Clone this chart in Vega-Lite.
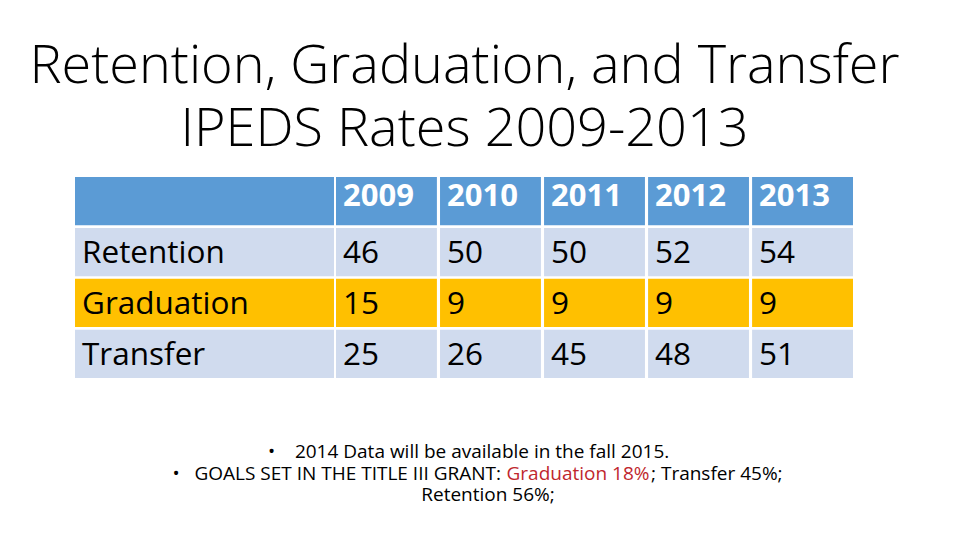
{
  "$schema": "https://vega.github.io/schema/vega-lite/v6.json",
  "background": "white",
  "padding": {"left": 29, "top": 35, "right": 0, "bottom": 0},
  "config": {"view": {"stroke": null}},
  "datasets": {
    "title": [
      {"line": 1, "text": "Retention, Graduation, and Transfer"},
      {"line": 2, "text": "IPEDS Rates 2009-2013"}
    ],
    "cells": [
      {"row": "header", "col": "label", "value": ""},
      {"row": "Retention", "col": "label", "value": "Retention"},
      {"row": "Graduation", "col": "label", "value": "Graduation"},
      {"row": "Transfer", "col": "label", "value": "Transfer"},
      {"row": "header", "col": "2009", "value": "2009"},
      {"row": "header", "col": "2010", "value": "2010"},
      {"row": "header", "col": "2011", "value": "2011"},
      {"row": "header", "col": "2012", "value": "2012"},
      {"row": "header", "col": "2013", "value": "2013"},
      {"row": "Retention", "col": "2009", "value": "46"},
      {"row": "Retention", "col": "2010", "value": "50"},
      {"row": "Retention", "col": "2011", "value": "50"},
      {"row": "Retention", "col": "2012", "value": "52"},
      {"row": "Retention", "col": "2013", "value": "54"},
      {"row": "Graduation", "col": "2009", "value": "15"},
      {"row": "Graduation", "col": "2010", "value": "9"},
      {"row": "Graduation", "col": "2011", "value": "9"},
      {"row": "Graduation", "col": "2012", "value": "9"},
      {"row": "Graduation", "col": "2013", "value": "9"},
      {"row": "Transfer", "col": "2009", "value": "25"},
      {"row": "Transfer", "col": "2010", "value": "26"},
      {"row": "Transfer", "col": "2011", "value": "45"},
      {"row": "Transfer", "col": "2012", "value": "48"},
      {"row": "Transfer", "col": "2013", "value": "51"}
    ],
    "notes": [
      {"line": 1, "part": "left", "text": "\u2022\u00a0\u00a0\u00a0\u00a02014 Data will be available in the fall 2015."},
      {"line": 2, "part": "a", "text": "\u2022\u00a0\u00a0\u00a0GOALS SET IN THE TITLE III GRANT:"},
      {"line": 2, "part": "b", "text": "Graduation 18%"},
      {"line": 2, "part": "c", "text": "; Transfer 45%;"},
      {"line": 3, "part": "center", "text": "Retention 56%;"}
    ]
  },
  "spacing": 15,
  "vconcat": [
    {
      "width": 779,
      "height": 127,
      "data": {"name": "title"},
      "mark": {"type": "text", "align": "center", "baseline": "middle", "font": "Open Sans", "fontWeight": 300, "fontSize": 54, "color": "black"},
      "encoding": {
        "y": {"field": "line", "type": "ordinal", "axis": null, "scale": {"domain": [1, 2], "paddingInner": 0, "paddingOuter": 0}},
        "text": {"field": "text"}
      }
    },
    {
      "spacing": 63,
      "vconcat": [
        {
          "spacing": 2,
          "hconcat": [
            {
              "width": 259,
              "height": 201,
              "data": {"name": "cells"},
              "transform": [{"filter": "datum.col === 'label'"}],
              "encoding": {
                "x": {"field": "col", "type": "nominal", "axis": null, "scale": {"paddingInner": 0, "paddingOuter": 0}},
                "y": {"field": "row", "type": "nominal", "axis": null, "scale": {"domain": ["header", "Retention", "Graduation", "Transfer"], "paddingInner": 0.05, "paddingOuter": 0}}
              },
              "layer": [
                {
                  "mark": {"type": "rect"},
                  "encoding": {
                    "color": {"field": "row", "type": "nominal", "legend": null,
                      "scale": {"domain": ["header", "Retention", "Graduation", "Transfer"], "range": ["#5B9BD5", "#D0DBEE", "#FFC000", "#D0DBEE"]}}
                  }
                },
                {
                  "mark": {"type": "text", "align": "left", "baseline": "middle", "dx": 7, "dy": 2, "font": "Open Sans", "fontSize": 31.5, "color": "black"},
                  "encoding": {
                    "x": {"field": "col", "type": "nominal", "bandPosition": 0},
                    "text": {"field": "value"}
                  }
                }
              ]
            },
            {
              "width": 517,
              "height": 201,
              "data": {"name": "cells"},
              "transform": [{"filter": "datum.col !== 'label'"}],
              "encoding": {
                "x": {"field": "col", "type": "nominal", "axis": null, "scale": {"domain": ["2009", "2010", "2011", "2012", "2013"], "paddingInner": 0.03, "paddingOuter": 0}},
                "y": {"field": "row", "type": "nominal", "axis": null, "scale": {"domain": ["header", "Retention", "Graduation", "Transfer"], "paddingInner": 0.05, "paddingOuter": 0}}
              },
              "layer": [
                {
                  "mark": {"type": "rect"},
                  "encoding": {
                    "color": {"field": "row", "type": "nominal", "legend": null,
                      "scale": {"domain": ["header", "Retention", "Graduation", "Transfer"], "range": ["#5B9BD5", "#D0DBEE", "#FFC000", "#D0DBEE"]}}
                  }
                },
                {
                  "transform": [{"filter": "datum.row !== 'header'"}],
                  "mark": {"type": "text", "align": "left", "baseline": "middle", "dx": 7, "dy": 2, "font": "Open Sans", "fontSize": 31.5, "color": "black"},
                  "encoding": {
                    "x": {"field": "col", "type": "nominal", "bandPosition": 0},
                    "text": {"field": "value"}
                  }
                },
                {
                  "transform": [{"filter": "datum.row === 'header'"}],
                  "mark": {"type": "text", "align": "left", "baseline": "middle", "dx": 7, "dy": -4, "font": "Open Sans", "fontWeight": "bold", "fontSize": 31, "color": "white"},
                  "encoding": {
                    "x": {"field": "col", "type": "nominal", "bandPosition": 0},
                    "text": {"field": "value"}
                  }
                }
              ]
            }
          ]
        },
        {
          "width": 779,
          "height": 65,
          "data": {"name": "notes"},
          "encoding": {
            "y": {"field": "line", "type": "ordinal", "axis": null, "scale": {"domain": [1, 2, 3], "paddingInner": 0, "paddingOuter": 0}},
            "text": {"field": "text"}
          },
          "layer": [
            {
              "transform": [{"filter": "datum.part === 'left'"}],
              "mark": {"type": "text", "align": "left", "baseline": "middle", "x": 193, "font": "Open Sans", "fontSize": 19, "color": "black"}
            },
            {
              "transform": [{"filter": "datum.part === 'a'"}],
              "mark": {"type": "text", "align": "right", "baseline": "middle", "x": 426, "font": "Open Sans", "fontSize": 19, "color": "black"}
            },
            {
              "transform": [{"filter": "datum.part === 'b'"}],
              "mark": {"type": "text", "align": "center", "baseline": "middle", "x": 503, "font": "Open Sans", "fontSize": 19, "color": "#C0272D"}
            },
            {
              "transform": [{"filter": "datum.part === 'c'"}],
              "mark": {"type": "text", "align": "left", "baseline": "middle", "x": 576, "font": "Open Sans", "fontSize": 19, "color": "black"}
            },
            {
              "transform": [{"filter": "datum.part === 'center'"}],
              "mark": {"type": "text", "align": "center", "baseline": "middle", "x": 413, "font": "Open Sans", "fontSize": 19, "color": "black"}
            }
          ]
        }
      ]
    }
  ]
}
